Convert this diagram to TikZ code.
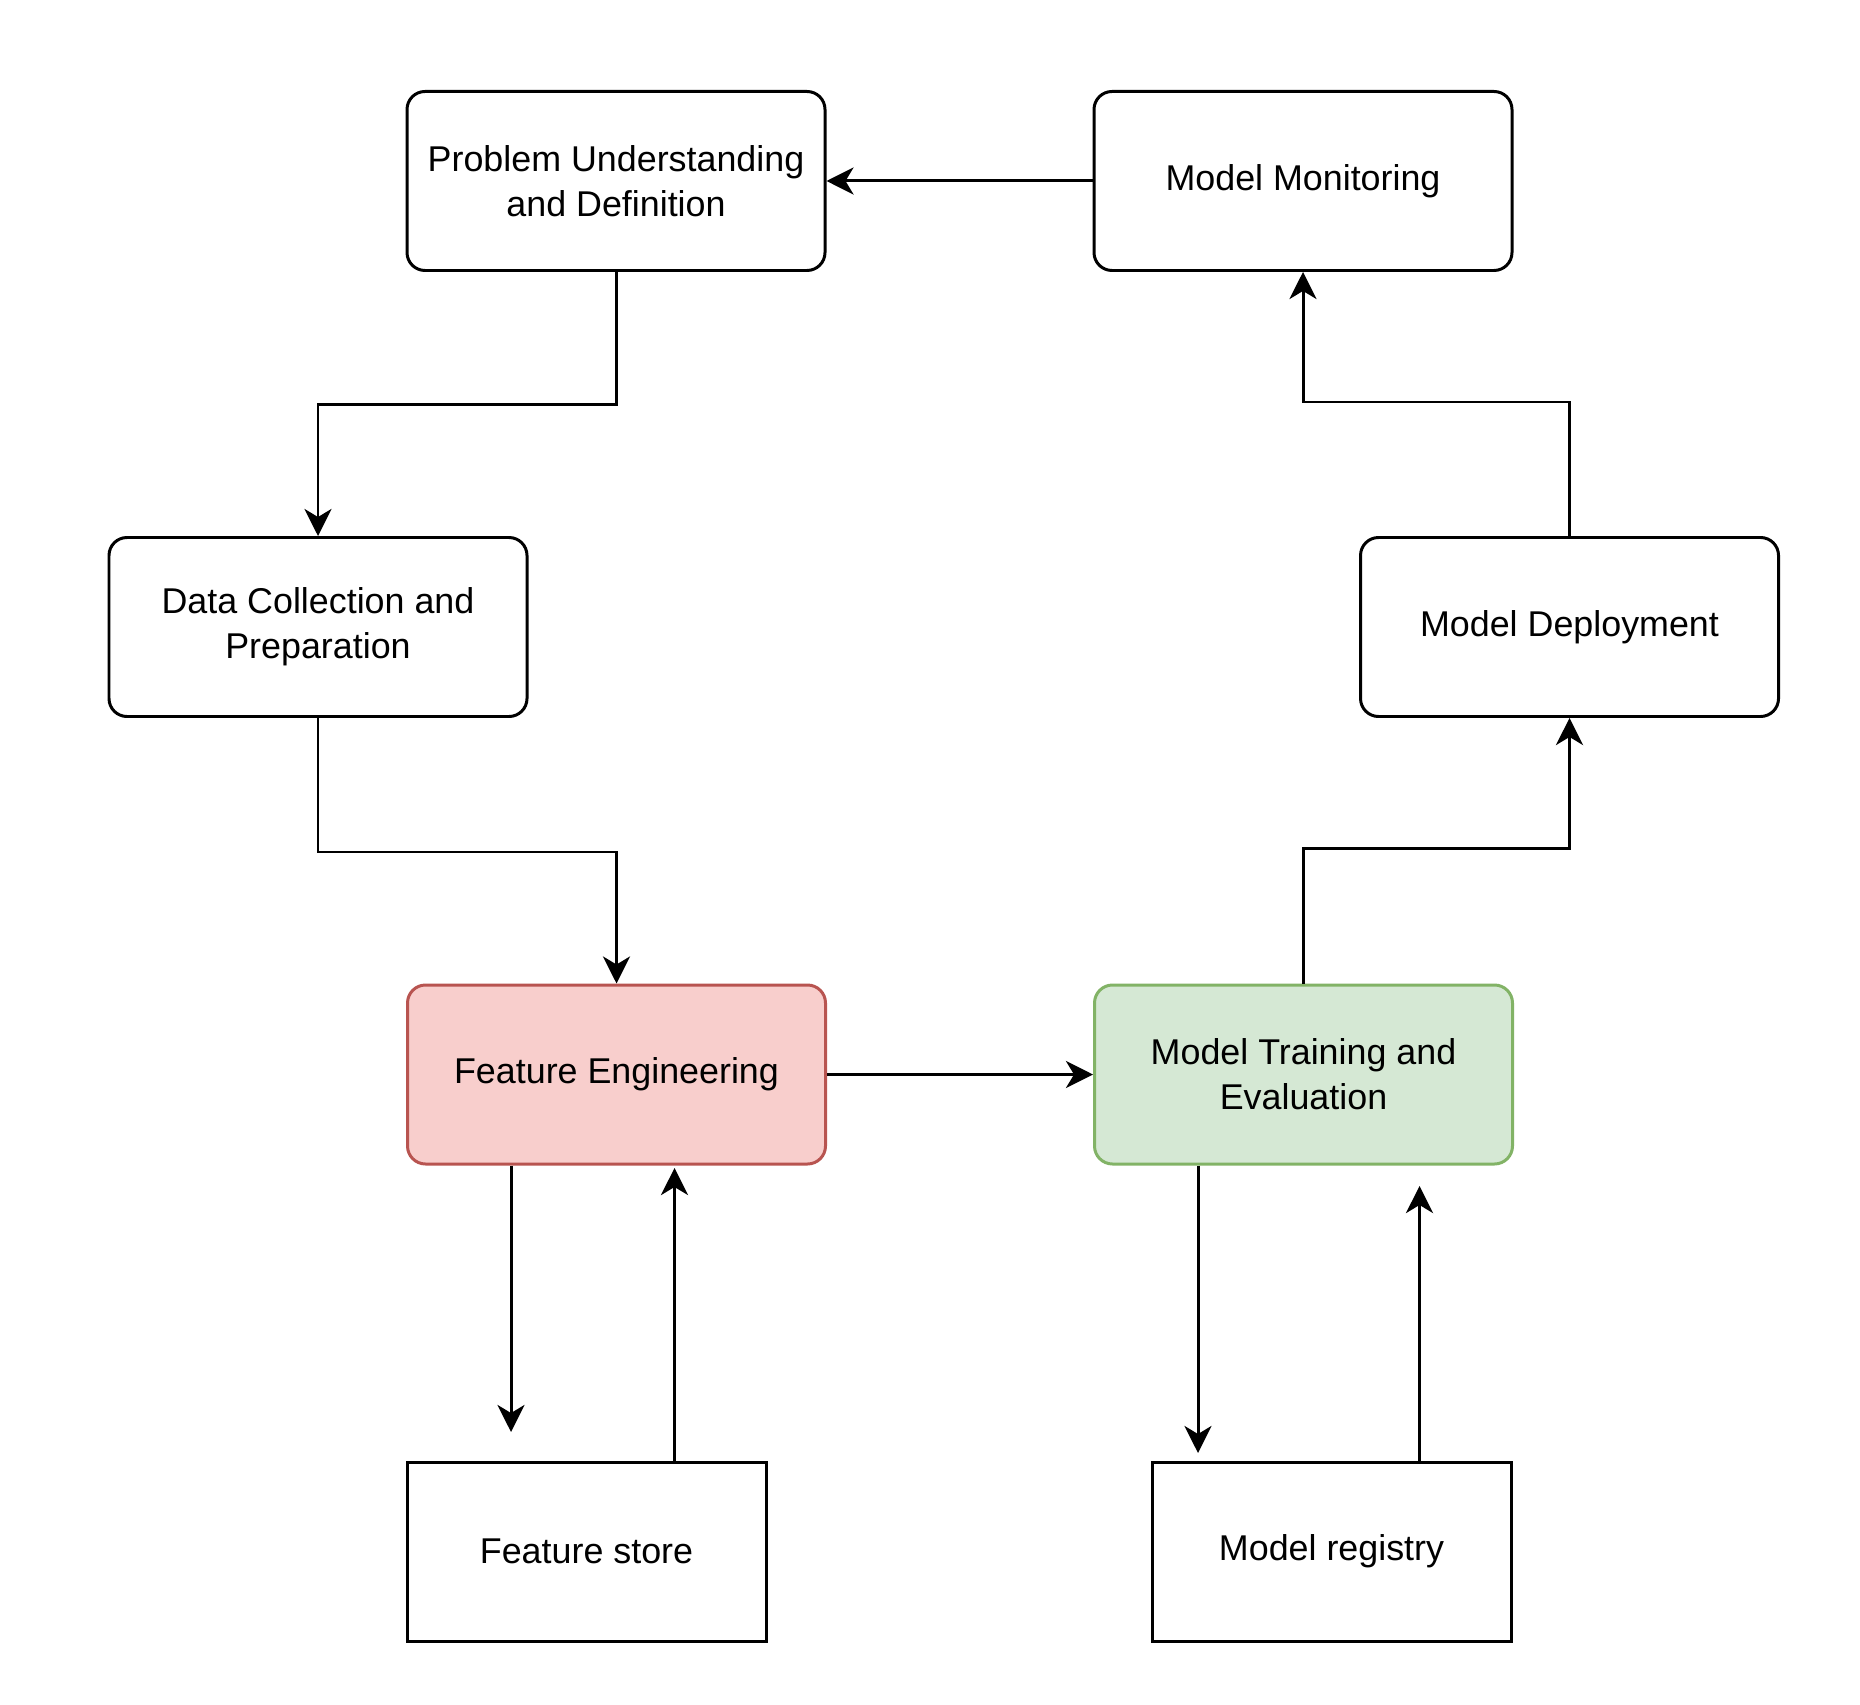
\documentclass[tikz,border=0pt]{standalone}
\usepackage{fontspec}
\setmainfont{Liberation Sans}
\usetikzlibrary{shapes,arrows.meta,positioning}

\definecolor{featfill}{HTML}{F8CECC}
\definecolor{featline}{HTML}{B85450}
\definecolor{trainfill}{HTML}{D5E8D4}
\definecolor{trainline}{HTML}{82B366}

\tikzset{
    stage/.style={draw, rectangle, rounded corners=0.18cm, line width=0.85pt,
        minimum width=4.18cm, minimum height=1.79cm, align=center,
        font=\fontsize{10.2}{12.8}\selectfont},
    storebox/.style={draw, rectangle, line width=0.85pt,
        minimum width=3.59cm, minimum height=1.79cm, align=center,
        font=\fontsize{10.2}{12.8}\selectfont},
    arr/.style={line width=0.85pt, -{Stealth[length=7.7pt, width=7.7pt, inset=2.3pt]}}
}

\begin{document}
\begin{tikzpicture}[node distance=2.66cm, auto]
    \useasboundingbox (0,0) rectangle (18.6,-17.04);

    % Nodes
    \node[stage] (problem) at (6.16,-1.81) {Problem Understanding\\and Definition};
    \node[stage, right=of problem] (monitor) {Model Monitoring};
    \node[stage] (data) at (3.18,-6.27) {Data Collection and\\Preparation};
    \node[stage] (deploy) at (15.695,-6.27) {Model Deployment};
    \node[stage, fill=featfill, draw=featline] (feature) at (6.165,-10.745) {Feature Engineering};
    \node[stage, fill=trainfill, draw=trainline, right=of feature] (train) {Model Training and\\Evaluation};

    % Stores
    \node[storebox] (fstore) at (5.865,-15.515) {Feature store};
    \node[storebox] (registry) at (13.315,-15.515) {Model registry};

    % Loop
    \draw[arr] (monitor.west) -- (problem.east);
    \draw[arr] (problem.south) -- ++(0,-1.33) -| (data.north);
    \draw[arr] (data.south) -- ++(0,-1.34) -| (feature.north);
    \draw[arr] (feature.east) -- (train.west);
    \draw[arr] (train.north) -- ++(0,1.35) -| (deploy.south);
    \draw[arr] (deploy.north) -- ++(0,1.34) -| (monitor.south);

    % Store links (free ends)
    \draw[arr] ([xshift=1.05cm]feature.south west) -- ++(0,-2.665) coordinate (fsin);
    \draw[arr] ([xshift=2.69cm]fstore.north west) -- ++(0,2.925) coordinate (fsout);
    \draw[arr] ([xshift=1.05cm]train.south west) -- ++(0,-2.875) coordinate (regin);
    \draw[arr] ([xshift=2.69cm]registry.north west) -- ++(0,2.745) coordinate (regout);
\end{tikzpicture}
\end{document}
